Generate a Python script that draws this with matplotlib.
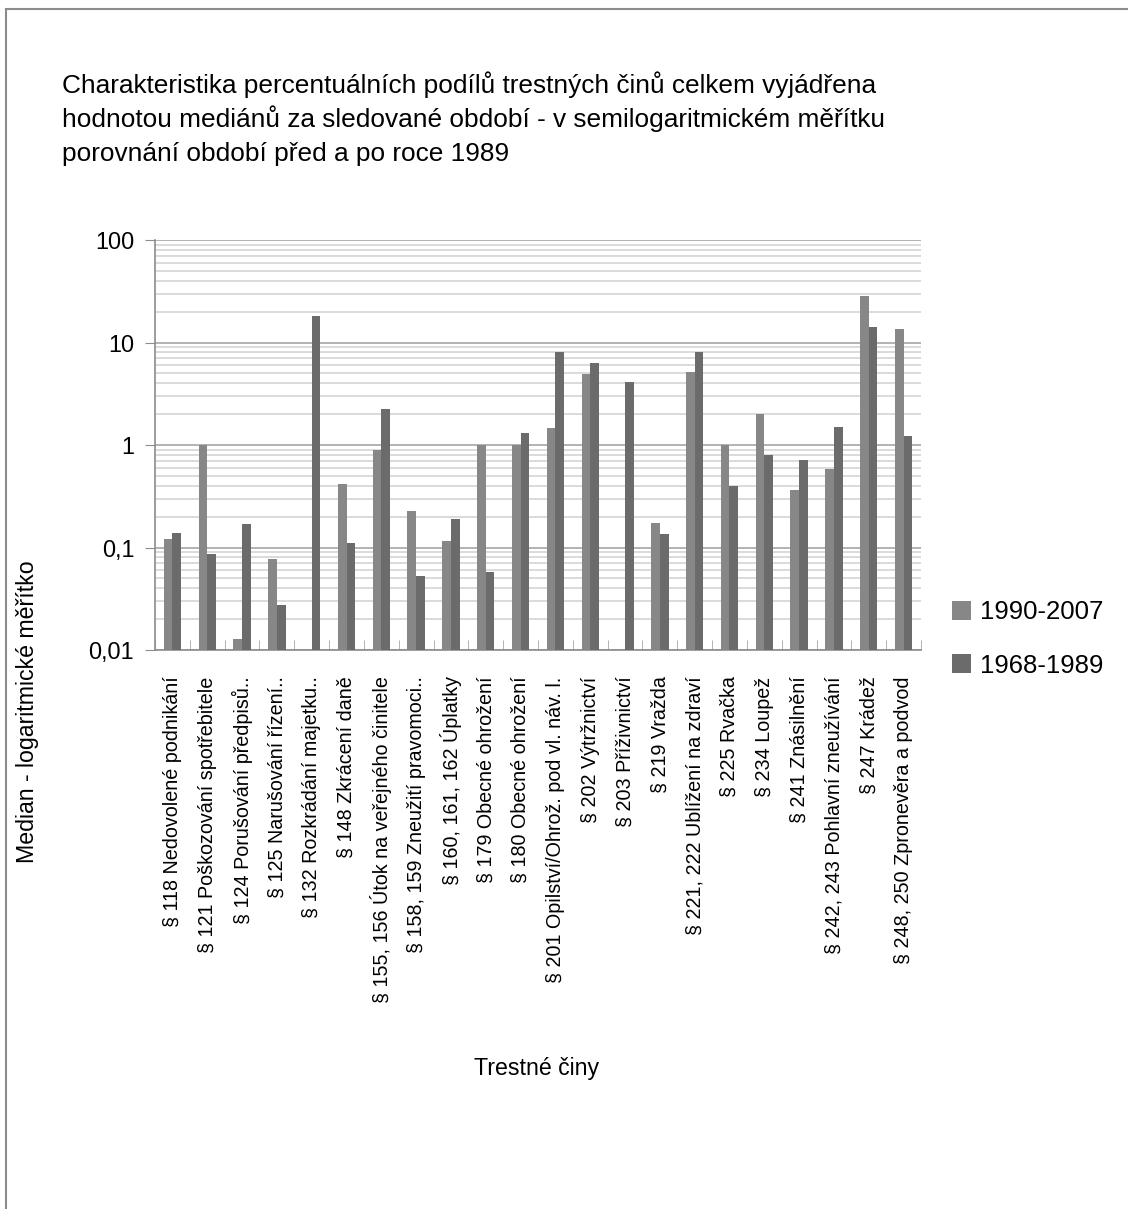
import numpy as np
import matplotlib
matplotlib.use('Agg')
import matplotlib.pyplot as plt
from matplotlib.patches import Rectangle
from matplotlib.ticker import LogLocator, FixedLocator, NullFormatter

plt.rcParams['font.family'] = ['Liberation Sans', 'DejaVu Sans']

categories = [
    '§ 118 Nedovolené podnikání',
    '§ 121 Poškozování spotřebitele',
    '§ 124 Porušování předpisů..',
    '§ 125 Narušování řízení..',
    '§ 132 Rozkrádání majetku..',
    '§ 148 Zkrácení daně',
    '§ 155, 156 Útok na veřejného činitele',
    '§ 158, 159 Zneužití pravomoci..',
    '§ 160, 161, 162 Úplatky',
    '§ 179 Obecné ohrožení',
    '§ 180 Obecné ohrožení',
    '§ 201 Opilství/Ohrož. pod vl. náv. l.',
    '§ 202 Výtržnictví',
    '§ 203 Příživnictví',
    '§ 219 Vražda',
    '§ 221, 222 Ublížení na zdraví',
    '§ 225 Rvačka',
    '§ 234 Loupež',
    '§ 241 Znásilnění',
    '§ 242, 243 Pohlavní zneužívání',
    '§ 247 Krádež',
    '§ 248, 250 Zpronevěra a podvod',
]

# medians, None = no bar
after_1990 = [0.12, 1.0, 0.0129, 0.077, None, 0.417, 0.89, 0.227, 0.115, 1.0, 1.0,
              1.47, 4.96, None, 0.173, 5.15, 1.0, 2.0, 0.364, 0.583, 28.3, 13.5]
before_1989 = [0.138, 0.087, 0.169, 0.0275, 18.1, 0.110, 2.25, 0.0525, 0.189, 0.0574, 1.31,
               8.0, 6.31, 4.12, 0.135, 8.0, 0.398, 0.80, 0.714, 1.5, 14.1, 1.22]

series_names = ['1990-2007', '1968-1989']
colors = ['#878787', '#6b6b6b']
title_lines = ['Charakteristika percentuálních podílů trestných činů celkem vyjádřena',
               'hodnotou mediánů za sledované období - v semilogaritmickém měřítku',
               'porovnání období před a po roce 1989']

W, H = 1128, 1209
fig = plt.figure(figsize=(W / 100, H / 100), dpi=100)
renderer = fig.canvas.get_renderer()


def fit_size(s, target_px):
    # font size giving the wanted text width in pixels
    t = fig.text(0, 0, s, fontsize=10)
    w = t.get_window_extent(renderer).width
    t.remove()
    return 10 * target_px / w


fs_title = fit_size(title_lines[0], 820)
fs_xt = fit_size(categories[0], 250)
fs_yt = fit_size('100', 39)
fs_leg = fit_size(series_names[0], 123)
fs_lab = fit_size('Trestné činy', 126)

ax = fig.add_axes([155 / W, 1 - 650 / H, (921 - 155) / W, (650 - 240) / H])

x = np.arange(len(categories))
bw = 0.25
vals1 = np.array([np.nan if v is None else v for v in after_1990])
vals2 = np.array([np.nan if v is None else v for v in before_1989])
b1 = ax.bar(x - bw / 2, np.nan_to_num(vals1, nan=0.0), bw, bottom=0.01, color=colors[0],
            label=series_names[0], zorder=3)
b2 = ax.bar(x + bw / 2, np.nan_to_num(vals2, nan=0.0), bw, bottom=0.01, color=colors[1],
            label=series_names[1], zorder=3)
# bars start at the 0.01 baseline, so top = value
for bars, vals in ((b1, vals1), (b2, vals2)):
    for r, v in zip(bars, vals):
        if np.isnan(v):
            r.set_visible(False)
        else:
            r.set_height(v - 0.01)

ax.set_yscale('log')
ax.set_ylim(0.01, 100)
ax.set_xlim(-0.5, len(categories) - 0.5)

ax.yaxis.set_major_locator(FixedLocator([0.01, 0.1, 1, 10, 100]))
ax.set_yticklabels(['0,01', '0,1', '1', '10', '100'], fontsize=fs_yt)
ax.yaxis.set_minor_locator(LogLocator(base=10, subs=np.arange(2, 10)))
ax.yaxis.set_minor_formatter(NullFormatter())
ax.tick_params(axis='y', which='major', direction='out', length=7, color='#8c8c8c', pad=8)
ax.tick_params(axis='y', which='minor', length=0)
ax.grid(True, which='major', axis='y', color='#a6a6a6', linewidth=1.2, zorder=0)
ax.grid(True, which='minor', axis='y', color='#d4d4d4', linewidth=1.2, zorder=0)

ax.set_xticks(x)
ax.set_xticklabels(categories, rotation=90, fontsize=fs_xt, ha='center', va='top')
ax.tick_params(axis='x', which='major', length=0, pad=19)
ax.set_xticks(np.arange(-0.5, len(categories), 1.0), minor=True)
ax.tick_params(axis='x', which='minor', direction='in', length=7, color='#a6a6a6')

for s in ('top', 'right'):
    ax.spines[s].set_visible(False)
for s in ('left', 'bottom'):
    ax.spines[s].set_color('#8c8c8c')
    ax.spines[s].set_linewidth(1.2)

for i, line in enumerate(title_lines):
    fig.text(62 / W, 1 - (93 + 34 * i) / H, line, fontsize=fs_title, ha='left', va='baseline')
fig.text(28 / W, 1 - 712 / H, 'Median - logaritmické měřítko', rotation=90,
         fontsize=fs_lab, ha='center', va='center')
fig.text(537 / W, 1 - 1068 / H, 'Trestné činy', fontsize=fs_lab, ha='center', va='center')

fig.legend(handles=[b1, b2], labels=series_names, loc='center left',
           bbox_to_anchor=(952 / W, 1 - 639 / H), frameon=False, fontsize=fs_leg,
           borderpad=0, borderaxespad=0,
           handlelength=0.75, handleheight=0.75, handletextpad=0.35, labelspacing=1.15)

fig.patches.append(Rectangle((6 / W, -0.1), 1.2, 1 - 9 / H + 0.1, transform=fig.transFigure,
                             fill=False, edgecolor='#8c8c8c', linewidth=1.5))

fig.savefig('out.png', dpi=100)
